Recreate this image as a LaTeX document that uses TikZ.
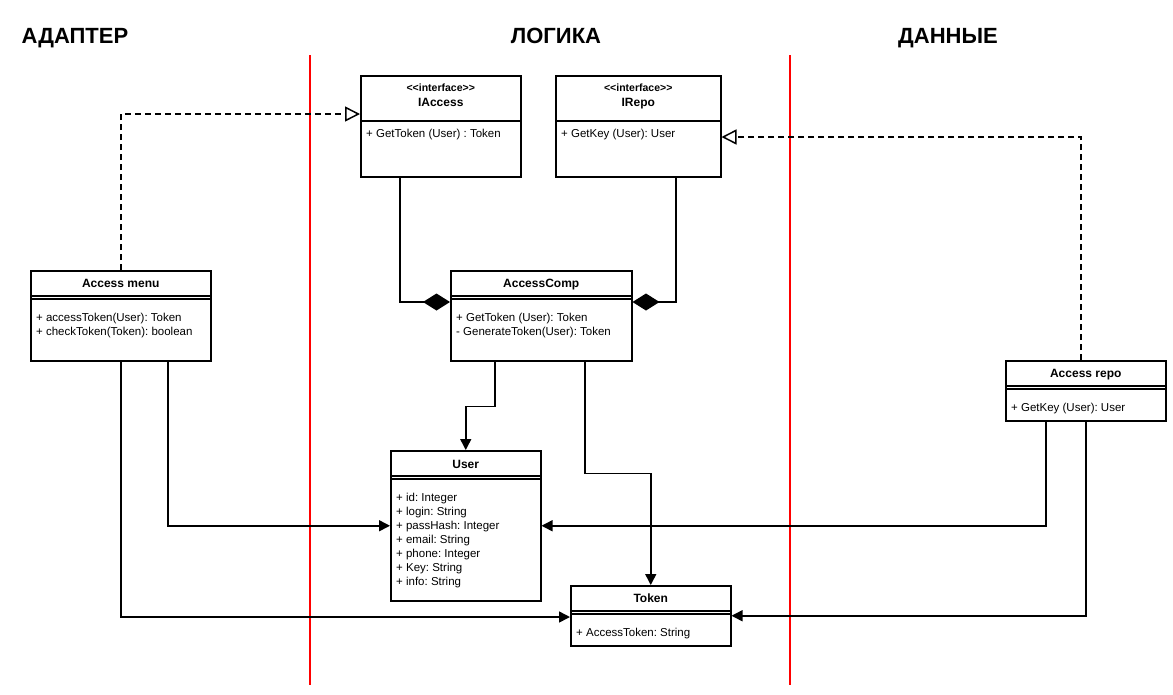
\documentclass[tikz,border=0pt]{standalone}
\usepackage{fontspec}
\setmainfont{Liberation Sans}
\usetikzlibrary{arrows.meta,positioning,calc}
\frenchspacing

\begin{document}
\begin{tikzpicture}[x=1pt,y=-1pt,
    umlbox/.style={draw, line width=1.5pt, anchor=north west, inner sep=0pt},
    stereo/.style={font=\bfseries\fontsize{10.5}{12}\selectfont, anchor=base, inner sep=0pt},
    title/.style={font=\bfseries\fontsize{12}{14}\selectfont, anchor=base, inner sep=0pt},
    members/.style={font=\fontsize{11.5}{14}\selectfont, align=left, anchor=north west, inner sep=0pt},
    zone/.style={font=\bfseries\fontsize{22}{26}\selectfont, anchor=base},
    sep/.style={line width=1.5pt},
    dsep/.style={line width=1.2pt},
    lane/.style={red, line width=1.5pt},
    link/.style={line width=1.5pt, -{Triangle[length=11pt,width=11pt]}},
    realize/.style={line width=1.5pt, dash pattern=on 6pt off 4pt, -{Triangle[open,length=15pt,width=15pt,line width=1.5pt]}},
    compose/.style={line width=1.5pt, -{Diamond[length=27pt,width=17pt]}}]
  \useasboundingbox (0,0) rectangle (1173,694);

  % layers
  \node[zone] (adapter) at (75,43) {АДАПТЕР};
  \node[zone] (logic) at (556,43) {ЛОГИКА};
  \node[zone] (data) at (948,43) {ДАННЫЕ};
  \draw[lane] (310,55) -- (310,685);
  \draw[lane] (790,55) -- (790,685);

  % interfaces
  \node[umlbox, minimum width=160pt, minimum height=101pt] (iaccess) at (360,75) {};
  \node[stereo] (iaccess-st) at ($(iaccess.north)+(0,16.8)$) {\textless\kern0pt\textless interface\textgreater\kern0pt\textgreater};
  \node[title] (iaccess-name) at ($(iaccess.north)+(0,31.2)$) {IAccess};
  \draw[sep] ($(iaccess.north west)+(0,46)$) -- ($(iaccess.north east)+(0,46)$);
  \node[members] (iaccess-ops) at ($(iaccess.north west)+(6,53.6)$) {+ GetToken (User) : Token};

  \node[umlbox, minimum width=165pt, minimum height=101pt] (irepo) at (555,75) {};
  \node[stereo] (irepo-st) at ($(irepo.north)+(0,16.8)$) {\textless\kern0pt\textless interface\textgreater\kern0pt\textgreater};
  \node[title] (irepo-name) at ($(irepo.north)+(0,31.2)$) {IRepo};
  \draw[sep] ($(irepo.north west)+(0,46)$) -- ($(irepo.north east)+(0,46)$);
  \node[members] (irepo-ops) at ($(irepo.north west)+(6,53.6)$) {+ GetKey (User): User};

  % classes
  \node[umlbox, minimum width=180pt, minimum height=90pt] (menu) at (30,270) {};
  \node[title] (menu-name) at ($(menu.north)+(0,17.3)$) {Access menu};
  \draw[dsep] ($(menu.north west)+(0,26)$) -- ($(menu.north east)+(0,26)$);
  \draw[dsep] ($(menu.north west)+(0,29)$) -- ($(menu.north east)+(0,29)$);
  \node[members] (menu-ops) at ($(menu.north west)+(6,42.6)$) {+ accessToken(User): Token\\+ checkToken(Token): boolean};

  \node[umlbox, minimum width=181pt, minimum height=90pt] (comp) at (450,270) {};
  \node[title] (comp-name) at ($(comp.north)+(0,17.3)$) {AccessComp};
  \draw[dsep] ($(comp.north west)+(0,26)$) -- ($(comp.north east)+(0,26)$);
  \draw[dsep] ($(comp.north west)+(0,29)$) -- ($(comp.north east)+(0,29)$);
  \node[members] (comp-ops) at ($(comp.north west)+(6,42.6)$) {+ GetToken (User): Token\\- GenerateToken(User): Token};

  \node[umlbox, minimum width=150pt, minimum height=150pt] (user) at (390,450) {};
  \node[title] (user-name) at ($(user.north)+(0,18.3)$) {User};
  \draw[dsep] ($(user.north west)+(0,26)$) -- ($(user.north east)+(0,26)$);
  \draw[dsep] ($(user.north west)+(0,29)$) -- ($(user.north east)+(0,29)$);
  \node[members] (user-attrs) at ($(user.north west)+(6,42.6)$) {+ id: Integer\\+ login: String\\+ passHash: Integer\\+ email: String\\+ phone: Integer\\+ Key: String\\+ info: String};

  \node[umlbox, minimum width=160pt, minimum height=60pt] (token) at (570,585) {};
  \node[title] (token-name) at ($(token.north)+(0,17.3)$) {Token};
  \draw[dsep] ($(token.north west)+(0,26)$) -- ($(token.north east)+(0,26)$);
  \draw[dsep] ($(token.north west)+(0,29)$) -- ($(token.north east)+(0,29)$);
  \node[members] (token-attrs) at ($(token.north west)+(6,42.6)$) {+ AccessToken: String};

  \node[umlbox, minimum width=160pt, minimum height=60pt] (repo) at (1005,360) {};
  \node[title] (repo-name) at ($(repo.north)+(0,17.3)$) {Access repo};
  \draw[dsep] ($(repo.north west)+(0,26)$) -- ($(repo.north east)+(0,26)$);
  \draw[dsep] ($(repo.north west)+(0,29)$) -- ($(repo.north east)+(0,29)$);
  \node[members] (repo-ops) at ($(repo.north west)+(6,42.6)$) {+ GetKey (User): User};

  % realization
  \draw[realize] (menu.north) |- ($(iaccess.north west)+(0,39)$);
  \draw[realize] ($(repo.north west)+(76,0)$) |- ($(irepo.north east)+(0,62)$);

  % composition
  \draw[compose] ($(iaccess.south west)+(40,0)$) |- ($(comp.north west)+(0,32)$);
  \draw[compose] ($(irepo.south west)+(121,0)$) |- ($(comp.north east)+(0,32)$);

  % dependencies
  \draw[link] ($(comp.south west)+(45,0)$) -- ++(0,45) -| (user.north);
  \draw[link] ($(comp.south west)+(135,0)$) -- ++(0,112) -| (token.north);
  \draw[link] ($(menu.south west)+(138,0)$) |- (user.west);
  \draw[link] (menu.south) |- ($(token.north west)+(0,32)$);
  \draw[link] ($(repo.south west)+(41,0)$) |- (user.east);
  \draw[link] (repo.south) |- (token.east);
\end{tikzpicture}
\end{document}
